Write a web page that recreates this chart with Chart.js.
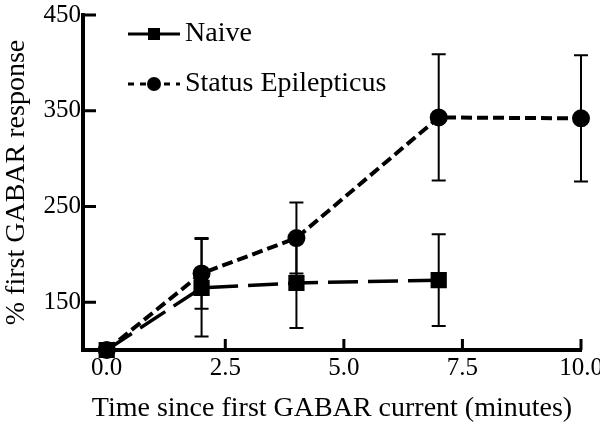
<!DOCTYPE html>
<html>
<head>
<meta charset="utf-8">
<script src="https://cdn.jsdelivr.net/npm/chart.js@4.4.0/dist/chart.umd.min.js"></script>
<style>
  body { margin: 0; background: #fff; }
  #wrap { width: 600px; height: 427px; }
</style>
</head>
<body>
<div id="wrap"><canvas id="grafico" width="600" height="427"></canvas></div>
<script>
// valores
const tempoNaive = [0, 2, 4, 7];
const mediaNaive = [100, 165, 170, 173];
const erroNaive = [0, 51, 47, 48];

const tempoSE = [0, 2, 4, 7, 10];
const mediaSE = [100, 180, 217, 343, 342];
const erroSE = [0, 37, 37, 66, 66];

const ticksX = [0, 2.5, 5, 7.5, 10];
const ticksY = [150, 250, 350, 450];

const fonte = 'Liberation Serif, Times New Roman, serif';

function pontos(xs, ys) {
    return xs.map((x, i) => ({ x: x, y: ys[i] }));
}

// barras de erro
const barrasErro = {
    id: 'barrasErro',
    beforeDatasetsDraw(chart) {
        const c = chart.ctx;
        const sx = chart.scales.x, sy = chart.scales.y;
        chart.data.datasets.forEach(ds => {
            c.save();
            c.strokeStyle = '#000';
            c.lineWidth = 2;
            ds.data.forEach((p, i) => {
                const e = ds.erros[i];
                if (!e) return;
                const px = sx.getPixelForValue(p.x);
                const y1 = sy.getPixelForValue(p.y + e);
                const y2 = sy.getPixelForValue(p.y - e);
                c.beginPath();
                c.moveTo(px, y1); c.lineTo(px, y2);
                c.moveTo(px - 7, y1); c.lineTo(px + 7, y1);
                c.moveTo(px - 7, y2); c.lineTo(px + 7, y2);
                c.stroke();
            });
            c.restore();
        });
    }
};

// marcas dos eixos para dentro
const marcasEixos = {
    id: 'marcasEixos',
    afterDraw(chart) {
        const c = chart.ctx;
        const sx = chart.scales.x, sy = chart.scales.y;
        const a = chart.chartArea;
        c.save();
        c.strokeStyle = '#000';
        c.lineWidth = 3;
        c.beginPath();
        ticksY.forEach(v => {
            const py = sy.getPixelForValue(v);
            c.moveTo(a.left, py); c.lineTo(a.left + 13, py);
        });
        ticksX.forEach(v => {
            if (v === 0) return;
            const px = sx.getPixelForValue(v);
            c.moveTo(px, a.bottom); c.lineTo(px, a.bottom - 11);
        });
        c.stroke();
        c.restore();
    }
};

// legenda desenhada à mão (linha + marcador)
const legenda = {
    id: 'legenda',
    afterDraw(chart) {
        const c = chart.ctx;
        const posY = [34, 84];
        chart.data.datasets.forEach((ds, i) => {
            const y = posY[i];
            c.save();
            c.strokeStyle = '#000';
            c.lineWidth = 3;
            c.setLineDash(ds.tracoLegenda);
            c.beginPath();
            c.moveTo(128, y); c.lineTo(180, y);
            c.stroke();
            c.setLineDash([]);
            c.fillStyle = '#000';
            if (ds.pointStyle === 'rect') {
                c.fillRect(154 - 6, y - 6, 12, 12);
            } else {
                c.beginPath();
                c.arc(154, y, 7, 0, Math.PI * 2);
                c.fill();
            }
            c.font = '28px ' + fonte;
            c.textBaseline = 'middle';
            c.textAlign = 'left';
            c.fillText(ds.label, 185, y);
            c.restore();
        });
    }
};

const ctx = document.getElementById('grafico').getContext('2d');
new Chart(ctx, {
    type: 'line',
    data: {
        datasets: [{
            label: 'Naive',
            data: pontos(tempoNaive, mediaNaive),
            erros: erroNaive,
            tracoLegenda: [],
            borderColor: '#000',
            backgroundColor: '#000',
            borderWidth: 3.5,
            borderDash: [30, 10],
            pointStyle: 'rect',
            pointRadius: 9,
            pointHoverRadius: 9,
            tension: 0,
            clip: false
        }, {
            label: 'Status Epilepticus',
            data: pontos(tempoSE, mediaSE),
            erros: erroSE,
            tracoLegenda: [6, 6],
            borderColor: '#000',
            backgroundColor: '#000',
            borderWidth: 4,
            borderDash: [11, 5],
            pointStyle: 'circle',
            pointRadius: 7,
            pointHoverRadius: 7,
            tension: 0,
            clip: false
        }]
    },
    options: {
        responsive: false,
        animation: false,
        layout: { padding: { top: 15, right: 19, left: 0, bottom: 0 } },
        plugins: {
            legend: { display: false },
            tooltip: { enabled: false }
        },
        scales: {
            x: {
                type: 'linear',
                min: -0.5,
                max: 10,
                afterBuildTicks: s => { s.ticks = ticksX.map(v => ({ value: v })); },
                afterFit: s => { s.height = 77; s.paddingLeft = 0; s.paddingRight = 0; },
                grid: { display: false, drawTicks: false },
                border: { display: true, color: '#000', width: 4 },
                ticks: {
                    color: '#000',
                    padding: 3,
                    maxRotation: 0,
                    font: { family: fonte, size: 25 },
                    callback: v => v.toFixed(1)
                },
                title: {
                    display: true,
                    text: 'Time since first GABAR current (minutes)',
                    color: '#000',
                    padding: { top: 0, bottom: 2 },
                    font: { family: fonte, size: 28 }
                }
            },
            y: {
                type: 'linear',
                min: 100,
                max: 450,
                afterBuildTicks: s => { s.ticks = ticksY.map(v => ({ value: v })); },
                afterFit: s => { s.width = 83; s.paddingTop = 0; s.paddingBottom = 0; },
                grid: { display: false, drawTicks: false },
                border: { display: true, color: '#000', width: 4 },
                ticks: {
                    color: '#000',
                    padding: 2,
                    font: { family: fonte, size: 25 }
                },
                title: {
                    display: true,
                    text: '% first GABAR response',
                    color: '#000',
                    padding: { top: 0, bottom: 0 },
                    font: { family: fonte, size: 28 }
                }
            }
        }
    },
    plugins: [barrasErro, marcasEixos, legenda]
});
</script>
</body>
</html>
